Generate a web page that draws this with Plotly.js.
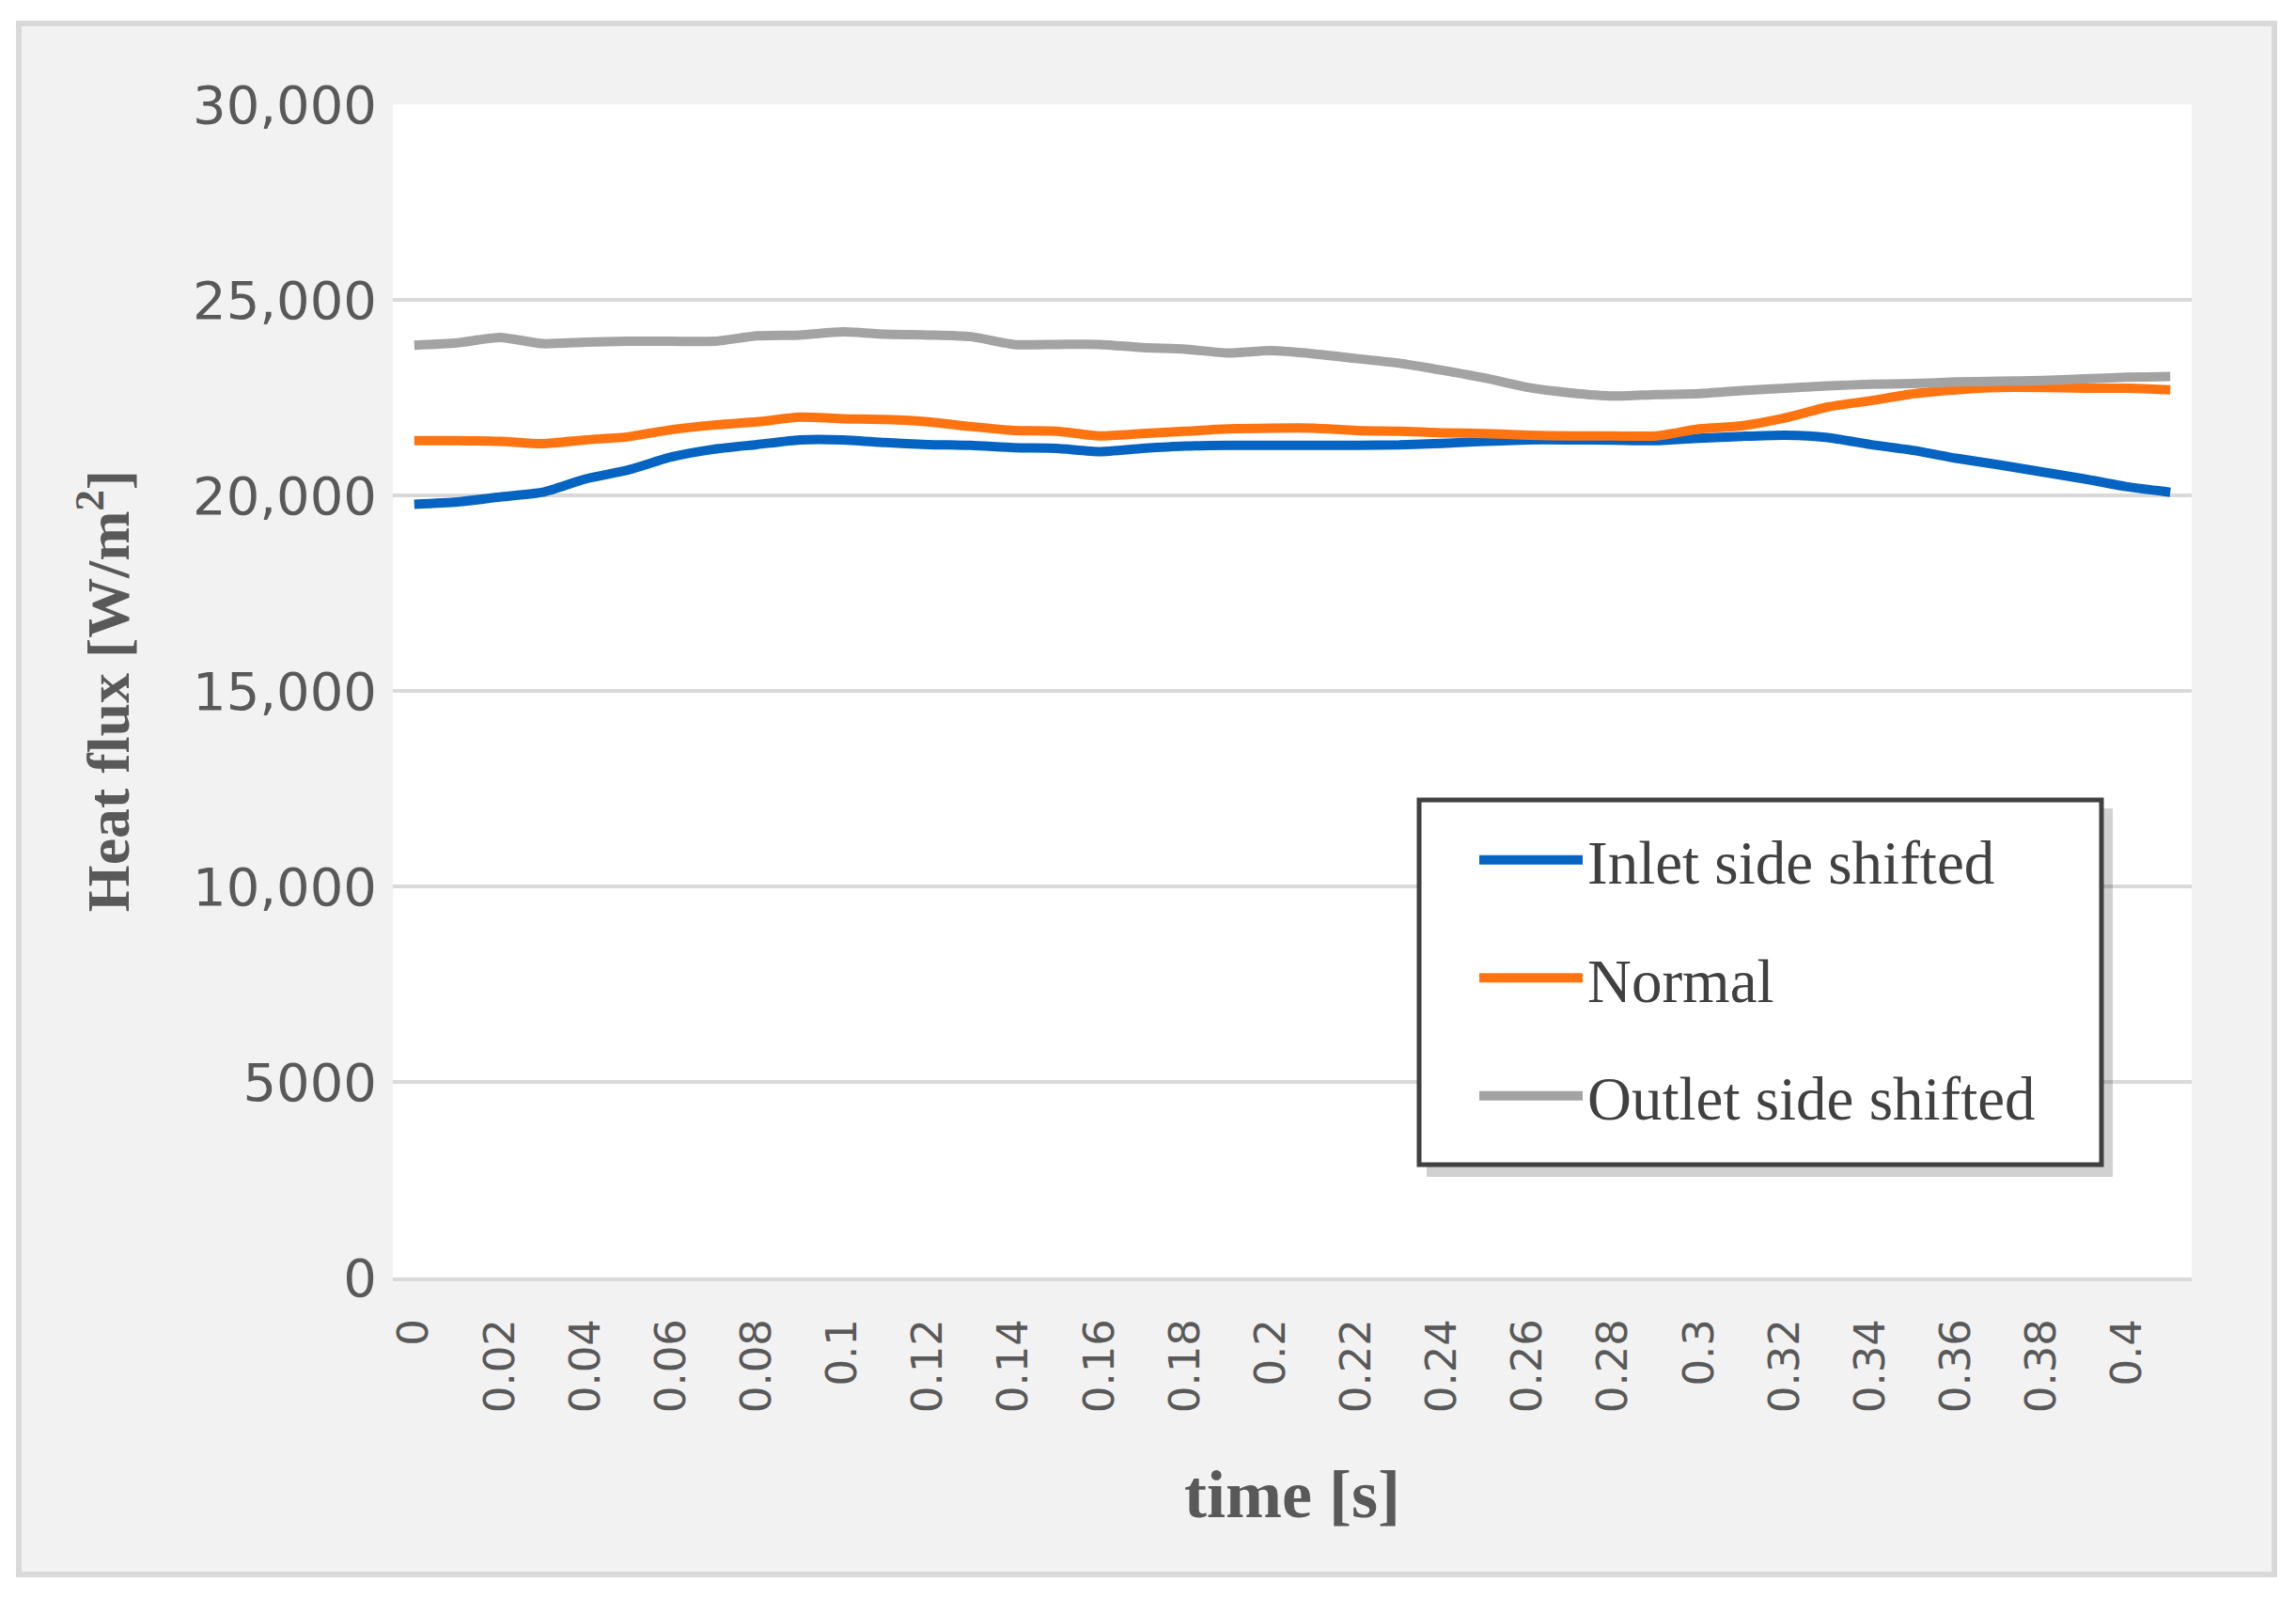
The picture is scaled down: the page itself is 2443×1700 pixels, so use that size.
<!DOCTYPE html>
<html>
<head>
<meta charset="utf-8">
<script src="https://cdn.plot.ly/plotly-3.0.1.min.js"></script>
<style>
html,body{margin:0;padding:0;background:#ffffff;}
#chart{width:2443px;height:1700px;}
</style>
</head>
<body>
<div id="chart"></div>
<script>
// ---- data ----
const timeLabels = ["0","0.01","0.02","0.03","0.04","0.05","0.06","0.07","0.08","0.09",
  "0.1","0.11","0.12","0.13","0.14","0.15","0.16","0.17","0.18","0.19",
  "0.2","0.21","0.22","0.23","0.24","0.25","0.26","0.27","0.28","0.29",
  "0.3","0.31","0.32","0.33","0.34","0.35","0.36","0.37","0.38","0.39",
  "0.4","0.41"];

const inletShifted = [19770,19830,19960,20080,20420,20650,20980,21180,21300,21420,
  21420,21350,21300,21280,21220,21200,21120,21200,21260,21280,
  21280,21280,21280,21290,21330,21380,21420,21420,21410,21400,
  21460,21510,21540,21480,21300,21150,20950,20780,20600,20420,
  20220,20080];

const normal = [21400,21400,21380,21320,21420,21500,21680,21800,21880,22000,
  21960,21940,21880,21760,21660,21640,21520,21580,21640,21700,
  21720,21720,21660,21640,21600,21580,21540,21520,21520,21520,
  21700,21780,21980,22260,22420,22600,22700,22760,22760,22740,
  22740,22700];

const outletShifted = [23840,23900,24040,23880,23920,23940,23940,23940,24080,24100,
  24180,24120,24100,24060,23860,23860,23860,23780,23740,23640,
  23700,23620,23500,23380,23200,23000,22760,22620,22540,22580,
  22600,22680,22740,22800,22840,22860,22900,22920,22940,22980,
  23020,23040];

const seriesNames = ["Inlet side shifted","Normal","Outlet side shifted"];

const xTickVals = ["0","0.02","0.04","0.06","0.08","0.1","0.12","0.14","0.16","0.18",
  "0.2","0.22","0.24","0.26","0.28","0.3","0.32","0.34","0.36","0.38","0.4"];
const yTickVals = [0,5000,10000,15000,20000,25000,30000];
const yTickText = ["0","5000","10,000","15,000","20,000","25,000","30,000"];

// ---- styling ----
const colors = ["#0563c1","#ff7411","#a3a3a3"];
const allSeries = [inletShifted, normal, outletShifted];

const traces = allSeries.map((vals, i) => ({
  type: "scatter",
  mode: "lines",
  x: timeLabels,
  y: vals,
  name: seriesNames[i],
  legendgroup: "g" + i,
  line: {color: colors[i], width: 10, shape: "spline", smoothing: 0.6},
  hoverinfo: "x+y+name"
}));

// pixel geometry helpers (figure 2443x1700)
const L = 418, R = 2332, T = 111, B = 1359;
const W = R - L, H = B - T;
const px = v => (v - L) / W;
const py = v => (B - v) / H;

const layout = {
  width: 2443,
  height: 1700,
  margin: {l: L, r: 2443 - R, t: T, b: 1700 - B, pad: 0},
  paper_bgcolor: "#ffffff",
  plot_bgcolor: "#ffffff",
  showlegend: true,
  xaxis: {
    type: "category",
    range: [-0.5, timeLabels.length - 0.5],
    tickmode: "array",
    tickvals: xTickVals,
    ticktext: xTickVals,
    tickangle: -90,
    ticks: "",
    ticklabelstandoff: 22,
    tickfont: {family: "DejaVu Sans", size: 45, color: "#595959"},
    showgrid: false,
    showline: true,
    linecolor: "#d9d9d9",
    linewidth: 4,
    zeroline: false,
    title: {
      text: "time [s]",
      font: {family: "Liberation Serif", size: 72, color: "#595959", weight: "bold"},
      standoff: 62
    }
  },
  yaxis: {
    range: [0, 30000],
    tickmode: "array",
    tickvals: yTickVals,
    ticktext: yTickText,
    ticks: "",
    ticklabelstandoff: 16,
    tickfont: {family: "DejaVu Sans", size: 56, color: "#595959"},
    showgrid: true,
    gridcolor: "#d9d9d9",
    gridwidth: 4,
    zeroline: false,
    showline: false,
    title: {
      text: "Heat flux [W/m<sup>2</sup>]",
      font: {family: "Liberation Serif", size: 64, color: "#595959", weight: "bold"},
      standoff: 46
    }
  },
  legend: {
    x: px(1569),
    y: py(866),
    xanchor: "left",
    yanchor: "top",
    bgcolor: "rgba(0,0,0,0)",
    borderwidth: 0,
    font: {family: "Liberation Serif", size: 65, color: "#404040"},
    itemwidth: 110,
    tracegroupgap: 38,
    traceorder: "grouped"
  },
  shapes: [
    {
      type: "rect", xref: "paper", yref: "paper", layer: "below",
      x0: px(20), x1: px(2420), y0: py(1675), y1: py(25),
      fillcolor: "#f2f2f2",
      line: {color: "#d9d9d9", width: 6}
    },
    {
      type: "rect", xref: "paper", yref: "paper", layer: "below",
      x0: 0, x1: 1, y0: 0, y1: 1,
      fillcolor: "#ffffff",
      line: {width: 0}
    },
    {
      type: "rect", xref: "paper", yref: "paper", layer: "above",
      x0: px(1518), x1: px(2248), y0: py(1252), y1: py(860),
      fillcolor: "rgba(0,0,0,0.18)",
      line: {width: 0}
    },
    {
      type: "rect", xref: "paper", yref: "paper", layer: "above",
      x0: px(1510), x1: px(2236), y0: py(1239), y1: py(851),
      fillcolor: "#ffffff",
      line: {color: "#404040", width: 5}
    }
  ]
};

Plotly.newPlot("chart", traces, layout, {displayModeBar: false, staticPlot: true});
</script>
</body>
</html>
